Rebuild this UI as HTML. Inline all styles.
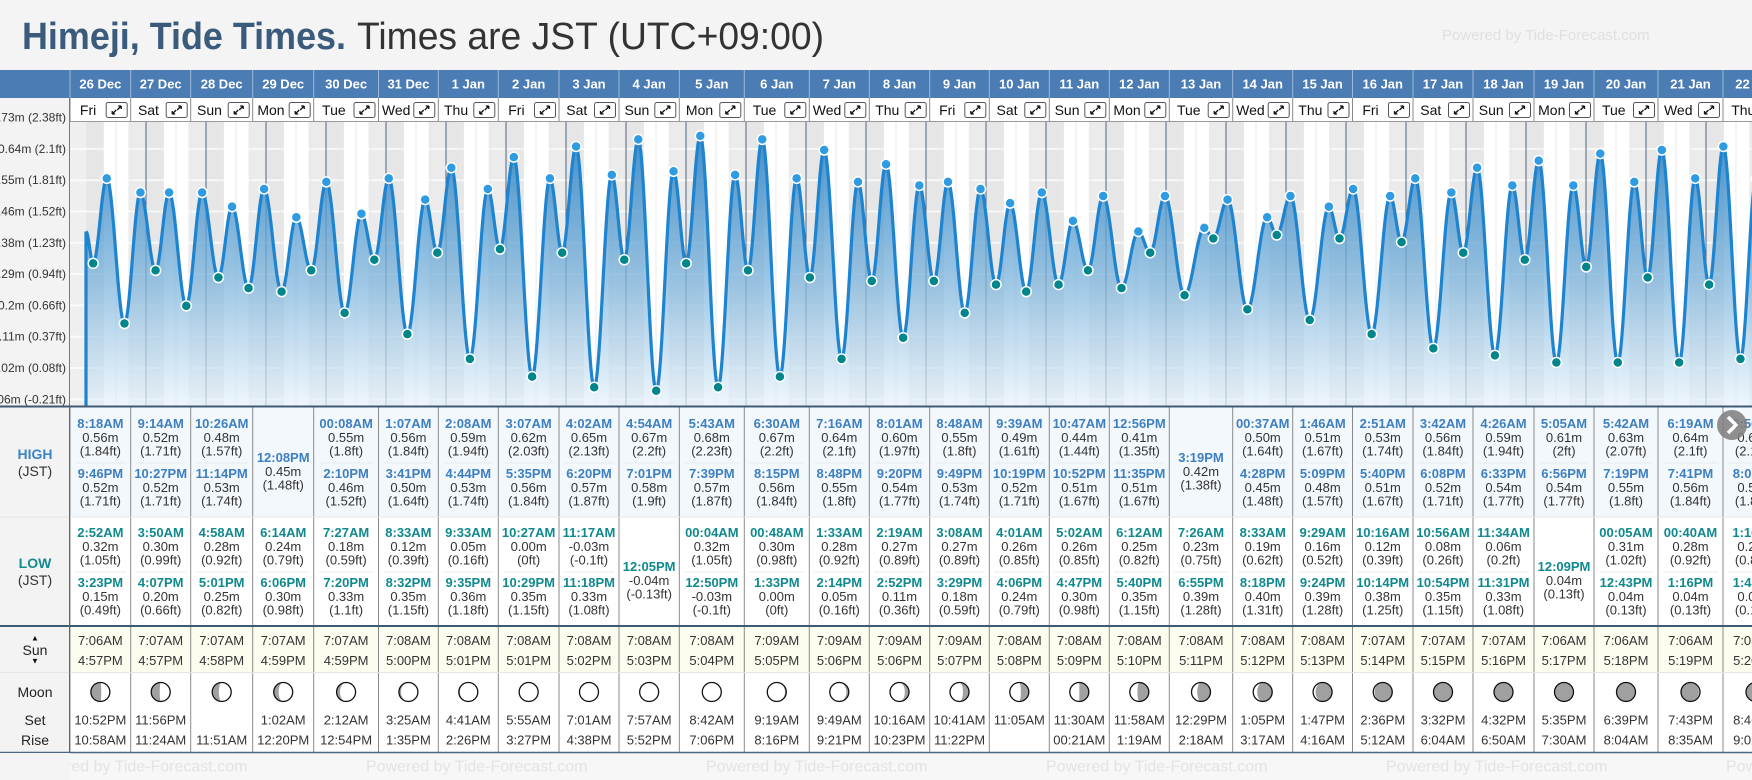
<!DOCTYPE html>
<html><head><meta charset="utf-8">
<style>
html,body{margin:0;padding:0;background:#f4f4f4;}
svg{display:block;font-family:"Liberation Sans",sans-serif;}
</style></head>
<body>
<svg id="root" width="1752" height="780" viewBox="0 0 1752 780" xmlns="http://www.w3.org/2000/svg">
<defs>
<linearGradient id="fillGrad" gradientUnits="userSpaceOnUse" x1="0" y1="130" x2="0" y2="406">
<stop offset="0" stop-color="#2a82c4" stop-opacity="0.9"/>
<stop offset="0.55" stop-color="#7db4dc" stop-opacity="0.75"/>
<stop offset="1" stop-color="#e6f2fb" stop-opacity="0.7"/>
</linearGradient>
<clipPath id="chartClip"><rect x="70" y="122" width="1682" height="284"/></clipPath>
</defs>
<rect x="0" y="0" width="1752" height="780" fill="#f4f4f4"/>
<text x="22" y="49" font-size="38" font-weight="bold" fill="#3b5b7d" textLength="324" lengthAdjust="spacingAndGlyphs">Himeji, Tide Times.</text>
<text x="357" y="49" font-size="38" fill="#333" textLength="467" lengthAdjust="spacingAndGlyphs">Times are JST (UTC+09:00)</text>
<text x="1442" y="40" font-size="15" fill="#e0e0e0">Powered by Tide-Forecast.com</text>
<g id="content"></g>
</svg>
<script>
// ---- Data ----
const dates = ["26 Dec","27 Dec","28 Dec","29 Dec","30 Dec","31 Dec","1 Jan","2 Jan","3 Jan","4 Jan","5 Jan","6 Jan","7 Jan","8 Jan","9 Jan","10 Jan","11 Jan","12 Jan","13 Jan","14 Jan","15 Jan","16 Jan","17 Jan","18 Jan","19 Jan","20 Jan","21 Jan","22 Jan"];
const dayNames = ["Fri","Sat","Sun","Mon","Tue","Wed","Thu","Fri","Sat","Sun","Mon","Tue","Wed","Thu","Fri","Sat","Sun","Mon","Tue","Wed","Thu","Fri","Sat","Sun","Mon","Tue","Wed","Thu"];
const highTides = [
 [["8:18AM",0.56,"1.84"],["9:46PM",0.52,"1.71"]],
 [["9:14AM",0.52,"1.71"],["10:27PM",0.52,"1.71"]],
 [["10:26AM",0.48,"1.57"],["11:14PM",0.53,"1.74"]],
 [["12:08PM",0.45,"1.48"]],
 [["00:08AM",0.55,"1.8"],["2:10PM",0.46,"1.52"]],
 [["1:07AM",0.56,"1.84"],["3:41PM",0.50,"1.64"]],
 [["2:08AM",0.59,"1.94"],["4:44PM",0.53,"1.74"]],
 [["3:07AM",0.62,"2.03"],["5:35PM",0.56,"1.84"]],
 [["4:02AM",0.65,"2.13"],["6:20PM",0.57,"1.87"]],
 [["4:54AM",0.67,"2.2"],["7:01PM",0.58,"1.9"]],
 [["5:43AM",0.68,"2.23"],["7:39PM",0.57,"1.87"]],
 [["6:30AM",0.67,"2.2"],["8:15PM",0.56,"1.84"]],
 [["7:16AM",0.64,"2.1"],["8:48PM",0.55,"1.8"]],
 [["8:01AM",0.60,"1.97"],["9:20PM",0.54,"1.77"]],
 [["8:48AM",0.55,"1.8"],["9:49PM",0.53,"1.74"]],
 [["9:39AM",0.49,"1.61"],["10:19PM",0.52,"1.71"]],
 [["10:47AM",0.44,"1.44"],["10:52PM",0.51,"1.67"]],
 [["12:56PM",0.41,"1.35"],["11:35PM",0.51,"1.67"]],
 [["3:19PM",0.42,"1.38"]],
 [["00:37AM",0.50,"1.64"],["4:28PM",0.45,"1.48"]],
 [["1:46AM",0.51,"1.67"],["5:09PM",0.48,"1.57"]],
 [["2:51AM",0.53,"1.74"],["5:40PM",0.51,"1.67"]],
 [["3:42AM",0.56,"1.84"],["6:08PM",0.52,"1.71"]],
 [["4:26AM",0.59,"1.94"],["6:33PM",0.54,"1.77"]],
 [["5:05AM",0.61,"2"],["6:56PM",0.54,"1.77"]],
 [["5:42AM",0.63,"2.07"],["7:19PM",0.55,"1.8"]],
 [["6:19AM",0.64,"2.1"],["7:41PM",0.56,"1.84"]],
 [["6:56AM",0.65,"2.13"],["8:05PM",0.56,"1.84"]]
];
const lowTides = [
 [["2:52AM",0.32,"1.05"],["3:23PM",0.15,"0.49"]],
 [["3:50AM",0.30,"0.99"],["4:07PM",0.20,"0.66"]],
 [["4:58AM",0.28,"0.92"],["5:01PM",0.25,"0.82"]],
 [["6:14AM",0.24,"0.79"],["6:06PM",0.30,"0.98"]],
 [["7:27AM",0.18,"0.59"],["7:20PM",0.33,"1.1"]],
 [["8:33AM",0.12,"0.39"],["8:32PM",0.35,"1.15"]],
 [["9:33AM",0.05,"0.16"],["9:35PM",0.36,"1.18"]],
 [["10:27AM",0.00,"0"],["10:29PM",0.35,"1.15"]],
 [["11:17AM",-0.03,"-0.1"],["11:18PM",0.33,"1.08"]],
 [["12:05PM",-0.04,"-0.13"]],
 [["00:04AM",0.32,"1.05"],["12:50PM",-0.03,"-0.1"]],
 [["00:48AM",0.30,"0.98"],["1:33PM",0.00,"0"]],
 [["1:33AM",0.28,"0.92"],["2:14PM",0.05,"0.16"]],
 [["2:19AM",0.27,"0.89"],["2:52PM",0.11,"0.36"]],
 [["3:08AM",0.27,"0.89"],["3:29PM",0.18,"0.59"]],
 [["4:01AM",0.26,"0.85"],["4:06PM",0.24,"0.79"]],
 [["5:02AM",0.26,"0.85"],["4:47PM",0.30,"0.98"]],
 [["6:12AM",0.25,"0.82"],["5:40PM",0.35,"1.15"]],
 [["7:26AM",0.23,"0.75"],["6:55PM",0.39,"1.28"]],
 [["8:33AM",0.19,"0.62"],["8:18PM",0.40,"1.31"]],
 [["9:29AM",0.16,"0.52"],["9:24PM",0.39,"1.28"]],
 [["10:16AM",0.12,"0.39"],["10:14PM",0.38,"1.25"]],
 [["10:56AM",0.08,"0.26"],["10:54PM",0.35,"1.15"]],
 [["11:34AM",0.06,"0.2"],["11:31PM",0.33,"1.08"]],
 [["12:09PM",0.04,"0.13"]],
 [["00:05AM",0.31,"1.02"],["12:43PM",0.04,"0.13"]],
 [["00:40AM",0.28,"0.92"],["1:16PM",0.04,"0.13"]],
 [["1:16AM",0.26,"0.85"],["1:47PM",0.05,"0.16"]]
];
const startLevel = 0.41;
const sunrise = ["7:06AM","7:07AM","7:07AM","7:07AM","7:07AM","7:08AM","7:08AM","7:08AM","7:08AM","7:08AM","7:08AM","7:09AM","7:09AM","7:09AM","7:09AM","7:08AM","7:08AM","7:08AM","7:08AM","7:08AM","7:08AM","7:07AM","7:07AM","7:07AM","7:06AM","7:06AM","7:06AM","7:05AM"];
const sunset = ["4:57PM","4:57PM","4:58PM","4:59PM","4:59PM","5:00PM","5:01PM","5:01PM","5:02PM","5:03PM","5:04PM","5:05PM","5:06PM","5:06PM","5:07PM","5:08PM","5:09PM","5:10PM","5:11PM","5:12PM","5:13PM","5:14PM","5:15PM","5:16PM","5:17PM","5:18PM","5:19PM","5:20PM"];
const moonSet = ["10:52PM","11:56PM","","1:02AM","2:12AM","3:25AM","4:41AM","5:55AM","7:01AM","7:57AM","8:42AM","9:19AM","9:49AM","10:16AM","10:41AM","11:05AM","11:30AM","11:58AM","12:29PM","1:05PM","1:47PM","2:36PM","3:32PM","4:32PM","5:35PM","6:39PM","7:43PM","8:46PM"];
const moonRise = ["10:58AM","11:24AM","11:51AM","12:20PM","12:54PM","1:35PM","2:26PM","3:27PM","4:38PM","5:52PM","7:06PM","8:16PM","9:21PM","10:23PM","11:22PM","","00:21AM","1:19AM","2:18AM","3:17AM","4:16AM","5:12AM","6:04AM","6:50AM","7:30AM","8:04AM","8:35AM","9:02AM"];
const moonIllum = [0.45,0.55,0.65,0.74,0.82,0.89,0.94,0.98,1,1,0.98,0.93,0.87,0.78,0.68,0.58,0.5,0.4,0.3,0.21,0.13,0.07,0.03,0,0,0.02,0.06,0.12];
const moonWaxing = [1,1,1,1,1,1,1,1,1,1,0,0,0,0,0,0,0,0,0,0,0,0,0,0,0,1,1,1];
const yTickValues = [0.7316,0.6432,0.5548,0.4664,0.378,0.2896,0.2012,0.1128,0.0244,-0.064];
const yTickLabels = ["0.73m (2.38ft)","0.64m (2.1ft)","0.55m (1.81ft)","0.46m (1.52ft)","0.38m (1.23ft)","0.29m (0.94ft)","0.2m (0.66ft)","0.11m (0.37ft)","0.02m (0.08ft)","-0.06m (-0.21ft)"];

// ---- Layout ----
const colEdges = [70,130.7,190.7,252.7,313.7,378.5,438.3,498.3,559,619,679.3,744.3,809.3,869.3,929.7,989.3,1049.3,1109.3,1169.3,1232.7,1292.7,1352.5,1413,1473,1534,1594,1658,1723,1788];
const NS="http://www.w3.org/2000/svg";
const root=document.getElementById('content');
function mk(tag,attrs,parent){const e=document.createElementNS(NS,tag);for(const k in attrs)e.setAttribute(k,attrs[k]);(parent||root).appendChild(e);return e;}
function txt(x,y,s,attrs,parent){const e=mk('text',Object.assign({x:x,y:y,'text-anchor':'middle','dominant-baseline':'central','font-size':12,fill:'#333'},attrs),parent);e.textContent=s;return e;}
function xScale(h){return 86+h*2.5;}
function yScale(v){return 399.3-(v+0.064)/0.0884*31.3;}
function parseT(s){const m=s.match(/(\d+):(\d+)(AM|PM)/);let h=+m[1]%12;if(m[3]==='PM')h+=12;return h+(+m[2])/60;}

let r;
r=mk('rect',{x:0,y:70,width:1752,height:682,fill:'#ffffff'});


r=mk('rect',{x:0,y:70,width:70,height:682,fill:'#f3f3f3'});


r=mk('rect',{x:0,y:70,width:1752,height:28,fill:'#4b7cb4'});


r=mk('rect',{x:70,y:408,width:1682,height:109,fill:'#f3f8fd'});


r=mk('rect',{x:70,y:627,width:1682,height:45,fill:'#fcfcef'});


r=mk('rect',{x:0,y:753,width:1752,height:27,fill:'#f7f7f7'});



// chart
const chart=mk('g',{'clip-path':'url(#chartClip)'});


r=mk('rect',{x:70,y:122,width:1682,height:284,fill:'#ffffff'},chart);


r=mk('rect',{x:70,y:122,width:16,height:284,fill:'#efefef'},chart);


for(let d=0;d<dates.length;d++){
  const set=d*24+parseT(sunset[d]);
  const rise=(d+1)*24+parseT(sunrise[Math.min(d+1,dates.length-1)]);
  const b=mk('rect',{x:xScale(set),y:122,width:xScale(rise)-xScale(set),height:284,fill:'#ebebeb'},chart);
  
  
  const b2=mk('rect',{x:xScale(d*24),y:122,width:xScale(d*24+parseT(sunrise[d]))-xScale(d*24),height:284,fill:'#e6e6e6'},chart);
  
  
}
for(let k=0;k<yTickValues.length;k++){
  const g=mk('line',{x1:70,x2:1752,y1:yScale(yTickValues[k]),y2:yScale(yTickValues[k]),stroke:'#ffffff','stroke-opacity':0.7,'stroke-width':2},chart);
  
  
}
for(let h=0;h<=dates.length*24;h+=6){
  if(h%24===0)continue;
  const g=mk('line',{x1:xScale(h),x2:xScale(h),y1:122,y2:406,stroke:'#e8e8e8','stroke-width':1},chart);
  
  
}
for(let d=1;d<=dates.length;d++){
  const g=mk('line',{x1:xScale(d*24),x2:xScale(d*24),y1:122,y2:406,stroke:'#51677d','stroke-width':1},chart);
  
  
}
const ext=[];
for(let d=0;d<dates.length;d++){
  highTides[d].forEach(t=>ext.push({h:d*24+parseT(t[0]),v:t[1],hi:true}));
  lowTides[d].forEach(t=>ext.push({h:d*24+parseT(t[0]),v:t[1],hi:false}));
}
ext.sort((a,b)=>a.h-b.h);
const pts=[{h:0,v:startLevel}].concat(ext);
let dPath='M'+xScale(0)+','+yScale(startLevel);
for(let i=0;i<pts.length-1;i++){
  const a=pts[i],b=pts[i+1];
  const n=Math.max(4,Math.ceil((b.h-a.h)*3));
  for(let s=1;s<=n;s++){const f=s/n;const v=a.v+(b.v-a.v)*(1-Math.cos(Math.PI*f))/2;dPath+=' L'+xScale(a.h+(b.h-a.h)*f).toFixed(2)+','+yScale(v).toFixed(2);}
}
const last=pts[pts.length-1];
const fillD=dPath+' L'+xScale(last.h)+',406 L'+xScale(0)+',406 Z';
r=mk('path',{d:fillD,fill:'url(#fillGrad)'},chart);


r=mk('path',{d:dPath+' M'+xScale(0)+','+yScale(startLevel)+' L'+xScale(0)+',406',fill:'none',stroke:'#1f84d0','stroke-width':3.2,'stroke-linejoin':'round'},chart);


ext.forEach(p=>{
  const c=mk('circle',{cx:xScale(p.h),cy:yScale(p.v),r:5,fill:p.hi?'#2f9be3':'#00868a',stroke:'#ffffff','stroke-width':1.5},chart);
  
  
});
for(let k=0;k<yTickLabels.length;k++){
  const t=txt(66,yScale(yTickValues[k]),yTickLabels[k],{'text-anchor':'end'});
  
  
}
r=mk('rect',{x:0,y:98,width:70,height:15,fill:'#f3f3f3'});


r=mk('rect',{x:0,y:70,width:70,height:28,fill:'#4b7cb4'});



for(let d=0;d<dates.length;d++){
  const x0=colEdges[d],x1=colEdges[d+1],cx=(x0+x1)/2;
  const t=txt(cx,84,dates[d],{fill:'#ffffff','font-weight':'bold','font-size':13});
  
  
  const bg=mk('rect',{x:x0,y:98,width:x1-x0,height:24,fill:'#ffffff'});
  
  
  const bx=x1-24.5;
  const dn=txt((x0+bx)/2,110,dayNames[d],{'font-size':14,fill:'#111'});
  
  
  const btn=mk('g',{});
  
  
  mk('rect',{x:bx,y:102.5,width:21,height:15,rx:2,fill:'#fff',stroke:'#555','stroke-width':1},btn);
  mk('path',{d:`M${bx+6},${114} L${bx+10},${110} M${bx+6},${114} h3 M${bx+6},${114} v-3 M${bx+15},${106} L${bx+11},${110} M${bx+15},${106} h-3 M${bx+15},${106} v3`,stroke:'#111','stroke-width':1.3,fill:'none'},btn);
  const hl=mk('line',{x1:x0,x2:x0,y1:70,y2:98,stroke:'#9db8d8','stroke-width':1});
  
  
  const dl=mk('line',{x1:x0,x2:x0,y1:98,y2:122,stroke:'#8a8a8a','stroke-width':1});
  
  
}
r=mk('line',{x1:70,x2:1752,y1:121.5,y2:121.5,stroke:'#999','stroke-width':1});


r=mk('line',{x1:69.5,x2:69.5,y1:98,y2:406,stroke:'#777','stroke-width':1});



function tideBlock(list,yTop,color,dataName,x){
  const rows=list.length===1?[yTop+34]:[yTop,yTop+50];
  list.forEach((t,i)=>{
    const y=rows[i];
    const a=txt(x,y,t[0],{'font-weight':'bold','font-size':13,fill:color});
    
    
    const b=txt(x,y+14,t[1].toFixed(2).replace('-0.00','0.00')+'m',{'font-size':13});
    
    
    const c=txt(x,y+27.5,'('+t[2]+'ft)',{'font-size':13});
    
    
  });
}
for(let d=0;d<dates.length;d++){
  const x0=colEdges[d],x1=colEdges[d+1],cx=(x0+x1)/2;
  tideBlock(highTides[d],423.5,'#3d7fc1','high-tide',cx);
  tideBlock(lowTides[d],532.5,'#10898e','low-tide',cx);
  if(highTides[d].length===2){const s=mk('line',{x1:x0+5,x2:x1-5,y1:463,y2:463,stroke:'#e6ecf2'});}
  if(lowTides[d].length===2){const s=mk('line',{x1:x0+5,x2:x1-5,y1:572,y2:572,stroke:'#ececec'});}
  let t=txt(cx,640.5,sunrise[d],{'font-size':13});
  
  
  t=txt(cx,660.5,sunset[d],{'font-size':13});
  
  
  const g=mk('g',{});
  
  
  const R=9.5,my=692;
  mk('circle',{cx:cx,cy:my,r:R,fill:'#a0a0a0'},g);
  const k=moonIllum[d];
  if(k>0){
    const rx=Math.abs(1-2*k)*R;
    const sweepOuter=moonWaxing[d]?1:0;
    const sweepInner=(k>0.5)===!!moonWaxing[d]?1:0;
    const pd=`M${cx},${my-R} A${R},${R} 0 0 ${sweepOuter} ${cx},${my+R} A${rx},${R} 0 0 ${sweepInner} ${cx},${my-R} Z`;
    mk('path',{d:pd,fill:'#ffffff'},g);
  }
  mk('circle',{cx:cx,cy:my,r:R,fill:'none',stroke:'#111','stroke-width':1.3},g);
  t=txt(cx,720,moonSet[d],{'font-size':13});
  
  
  t=txt(cx,740,moonRise[d],{'font-size':13});
  
  
  const cl=mk('line',{x1:x0,x2:x0,y1:406,y2:752,stroke:'#8a8a8a','stroke-width':1});
  
  
}
r=mk('line',{x1:0,x2:1752,y1:406.5,y2:406.5,stroke:'#3e5a74','stroke-width':2});


r=mk('line',{x1:0,x2:1752,y1:517,y2:517,stroke:'#e4e4e4','stroke-width':1});


r=mk('line',{x1:0,x2:1752,y1:626,y2:626,stroke:'#3e5a74','stroke-width':2});


r=mk('line',{x1:0,x2:1752,y1:672.5,y2:672.5,stroke:'#e4e4e4','stroke-width':1});


r=mk('line',{x1:0,x2:1752,y1:752.5,y2:752.5,stroke:'#4a6680','stroke-width':1.5});


r=mk('line',{x1:69.5,x2:69.5,y1:406,y2:752,stroke:'#666','stroke-width':1});



let L;
L=txt(35,454,'HIGH',{'font-weight':'bold','font-size':14,fill:'#3d84c6'});


L=txt(35,471,'(JST)',{'font-size':14,fill:'#333'});


L=txt(35,563,'LOW',{'font-weight':'bold','font-size':14,fill:'#14898f'});


L=txt(35,580,'(JST)',{'font-size':14,fill:'#333'});


L=txt(35,638,'▲',{'font-size':8,fill:'#111'});


L=txt(35,650,'Sun',{'font-size':14,fill:'#222'});


L=txt(35,661,'▼',{'font-size':8,fill:'#111'});


L=txt(35,692,'Moon',{'font-size':14,fill:'#222'});


L=txt(35,720,'Set',{'font-size':14,fill:'#222'});


L=txt(35,740,'Rise',{'font-size':14,fill:'#222'});



const sb=mk('g',{});


mk('circle',{cx:1732,cy:425,r:15,fill:'#7d7d7d','fill-opacity':0.85},sb);
mk('path',{d:'M1728,417 L1736,425 L1728,433',stroke:'#fff','stroke-width':3.5,fill:'none'},sb);

for(let i=0;i<6;i++){
  const w=txt(26+i*340,767,'Powered by Tide-Forecast.com',{'text-anchor':'start','font-size':16,fill:'#e3e3e3'});
  
  
}
r=mk('rect',{x:0,y:753,width:70,height:27,fill:'#f4f4f4'});


</script>
</body></html>
